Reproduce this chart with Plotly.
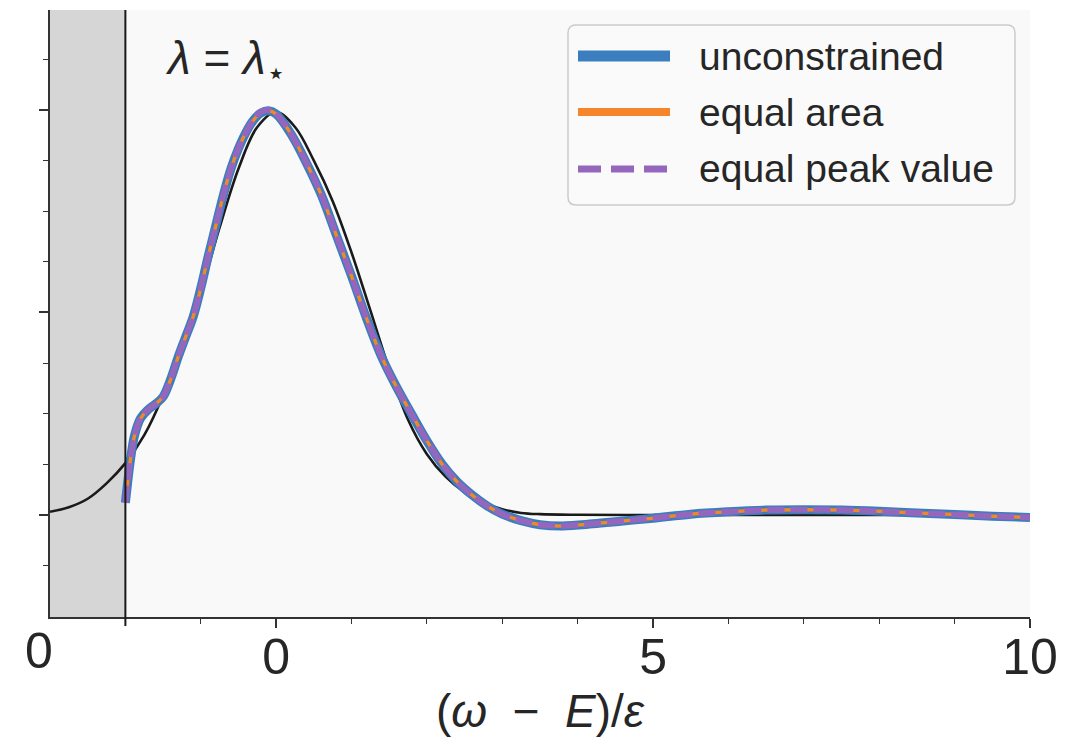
import plotly.graph_objects as go

# Spectral function samples, x = (omega - E)/epsilon
omega_fit = [-2.0, -1.97, -1.93, -1.88, -1.8, -1.7, -1.6, -1.5, -1.4, -1.3,
             -1.2, -1.1, -1.0, -0.9, -0.8, -0.7, -0.6, -0.5, -0.4, -0.3,
             -0.2, -0.1, 0.0, 0.2, 0.4, 0.6, 0.8, 1.0, 1.2, 1.4,
             1.6, 1.8, 2.0, 2.2, 2.4, 2.6, 2.8, 3.0, 3.25, 3.5,
             3.8, 4.2, 4.6, 5.0, 5.5, 6.0, 6.5, 7.0, 7.5, 8.0,
             8.5, 9.0, 9.5, 10.0]
unconstrained = [0.03, 0.08, 0.14, 0.195, 0.238, 0.26, 0.274, 0.292, 0.335, 0.39,
                 0.44, 0.49, 0.56, 0.64, 0.715, 0.79, 0.855, 0.905, 0.945, 0.975,
                 0.993, 0.998, 0.99, 0.94, 0.87, 0.79, 0.69, 0.59, 0.485, 0.39,
                 0.315, 0.248, 0.183, 0.126, 0.082, 0.049, 0.022, 0.002, -0.014, -0.024,
                 -0.027, -0.022, -0.015, -0.008, 0.002, 0.008, 0.012, 0.013, 0.012, 0.009,
                 0.005, 0.001, -0.003, -0.006]
equal_area = [0.03, 0.08, 0.14, 0.195, 0.238, 0.26, 0.274, 0.292, 0.335, 0.39,
              0.44, 0.49, 0.56, 0.64, 0.715, 0.79, 0.855, 0.905, 0.945, 0.975,
              0.993, 0.998, 0.99, 0.94, 0.87, 0.79, 0.69, 0.59, 0.485, 0.39,
              0.315, 0.248, 0.183, 0.126, 0.082, 0.049, 0.022, 0.002, -0.014, -0.024,
              -0.027, -0.022, -0.015, -0.008, 0.002, 0.008, 0.012, 0.013, 0.012, 0.009,
              0.005, 0.001, -0.003, -0.006]
equal_peak = [0.03, 0.08, 0.14, 0.195, 0.238, 0.26, 0.274, 0.292, 0.335, 0.39,
              0.44, 0.49, 0.56, 0.64, 0.715, 0.79, 0.855, 0.905, 0.945, 0.976,
              0.996, 1.0, 0.99, 0.94, 0.87, 0.79, 0.69, 0.59, 0.485, 0.39,
              0.315, 0.248, 0.183, 0.126, 0.082, 0.049, 0.022, 0.002, -0.014, -0.024,
              -0.027, -0.022, -0.015, -0.008, 0.002, 0.008, 0.012, 0.013, 0.012, 0.009,
              0.005, 0.001, -0.003, -0.006]

# Exact reference spectrum
omega_exact = [-3.0, -2.75, -2.5, -2.25, -2.0, -1.75, -1.5, -1.25, -1.0, -0.75,
               -0.5, -0.25, 0.0, 0.25, 0.5, 0.75, 1.0, 1.25, 1.5, 1.75,
               2.0, 2.25, 2.5, 2.75, 3.0, 3.25, 3.5, 4.0, 5.0, 6.0,
               8.0, 10.0]
exact = [0.008, 0.019, 0.040, 0.078, 0.128, 0.197, 0.295, 0.42, 0.55, 0.71,
         0.855, 0.958, 0.995, 0.958, 0.875, 0.775, 0.648, 0.505, 0.36, 0.235,
         0.15, 0.094, 0.056, 0.031, 0.014, 0.005, 0.002, 0.0005, 0.0, 0.0,
         0.0, 0.0]

lambda_star = -2.0
x_min, x_max = -3.0, 10.0
y_min, y_max = -0.252, 1.247
x_tick_vals = [0, 5, 10]
x_tick_text = ["0", "5", "10"]
x_minor_vals = [-2, -1, 1, 2, 3, 4, 6, 7, 8, 9]
y_tick_vals = [0.0, 0.5, 1.0]
y_minor_vals = [-0.125, 0.125, 0.25, 0.375, 0.625, 0.75, 0.875, 1.125]
edge_label = "0"

BLUE = "#3a7ebf"
ORANGE = "#f5842b"
PURPLE = "#9467bd"
INK = "#262626"
FONT = "Liberation Sans, Arial, sans-serif"

W, H = 1080, 739
plot_l, plot_r, plot_t, plot_b = 50, 1030, 10, 617


def qx(x):
    """figure pixel -> plot-area paper x"""
    return (x - plot_l) / (plot_r - plot_l)


def qy(y):
    """figure pixel -> plot-area paper y"""
    return (plot_b - y) / (plot_b - plot_t)


fig = go.Figure()

fig.add_trace(go.Scatter(x=omega_exact, y=exact, mode="lines", name="exact",
                         line=dict(color="#1a1a1a", width=2.6, shape="spline", smoothing=1.0)))
fig.add_trace(go.Scatter(x=omega_fit, y=unconstrained, mode="lines", name="unconstrained",
                         line=dict(color=BLUE, width=9, shape="spline", smoothing=1.0)))
fig.add_trace(go.Scatter(x=omega_fit, y=equal_area, mode="lines", name="equal area",
                         line=dict(color=ORANGE, width=3.5, shape="spline", smoothing=1.0)))
fig.add_trace(go.Scatter(x=omega_fit, y=equal_peak, mode="lines", name="equal peak value",
                         line=dict(color=PURPLE, width=6, dash="17px,6px", shape="spline", smoothing=1.0)))

# excluded region below lambda_star and its boundary
fig.add_shape(type="rect", xref="x", yref="paper", x0=x_min, x1=lambda_star, y0=0, y1=1,
              fillcolor="#d6d6d6", line=dict(width=0), layer="below")
fig.add_shape(type="line", xref="x", yref="paper", x0=lambda_star, x1=lambda_star, y0=-0.015, y1=1,
              line=dict(color="#1a1a1a", width=2))

# legend frame with rounded corners
lx0, lx1, ly0, ly1, r = 568, 1015, 25, 205, 8
frame = (f"M{qx(lx0 + r)},{qy(ly0)} L{qx(lx1 - r)},{qy(ly0)} Q{qx(lx1)},{qy(ly0)} {qx(lx1)},{qy(ly0 + r)} "
         f"L{qx(lx1)},{qy(ly1 - r)} Q{qx(lx1)},{qy(ly1)} {qx(lx1 - r)},{qy(ly1)} L{qx(lx0 + r)},{qy(ly1)} "
         f"Q{qx(lx0)},{qy(ly1)} {qx(lx0)},{qy(ly1 - r)} L{qx(lx0)},{qy(ly0 + r)} Q{qx(lx0)},{qy(ly0)} {qx(lx0 + r)},{qy(ly0)} Z")
fig.add_shape(type="path", xref="paper", yref="paper", path=frame,
              fillcolor="rgba(250,250,250,0.85)", line=dict(color="#cccccc", width=1.5))

legend_entries = [("unconstrained", BLUE, 11, "solid", 56),
                  ("equal area", ORANGE, 8, "solid", 112),
                  ("equal peak value", PURPLE, 7, "23px,10px", 169)]
annotations = []
for label, color, width, dash, yc in legend_entries:
    fig.add_shape(type="line", xref="paper", yref="paper",
                  x0=qx(578), x1=qx(670), y0=qy(yc), y1=qy(yc),
                  line=dict(color=color, width=width, dash=dash))
    annotations.append(dict(xref="paper", yref="paper", x=qx(697), y=qy(yc), text=label,
                            showarrow=False, xanchor="left", yanchor="middle",
                            font=dict(family=FONT, size=39, color=INK)))

annotations.append(dict(xref="paper", yref="paper", x=qx(225), y=qy(62),
                        text="<i>λ</i>&nbsp;=&nbsp;<i>λ</i><sub>⋆</sub>",
                        showarrow=False, xanchor="center", yanchor="middle",
                        font=dict(family=FONT, size=46, color=INK)))
annotations.append(dict(xref="paper", yref="paper", x=qx(39), y=qy(651), text=edge_label,
                        showarrow=False, xanchor="center", yanchor="middle",
                        font=dict(family=FONT, size=50, color=INK)))

fig.update_layout(
    width=W, height=H,
    margin=dict(l=plot_l, r=W - plot_r, t=plot_t, b=H - plot_b),
    paper_bgcolor="white",
    plot_bgcolor="#f9f9f9",
    showlegend=False,
    annotations=annotations,
    font=dict(family=FONT, color=INK),
)

fig.update_xaxes(
    range=[x_min, x_max], showgrid=False, zeroline=False,
    showline=True, linecolor="#333333", linewidth=1.5,
    tickmode="array", tickvals=x_tick_vals, ticktext=x_tick_text,
    ticks="outside", ticklen=9, tickwidth=1.5, tickcolor="#333333",
    ticklabelstandoff=-14,
    tickfont=dict(family=FONT, size=50, color=INK),
    minor=dict(tickmode="array", tickvals=x_minor_vals, ticks="outside",
               ticklen=5, tickwidth=1.2, tickcolor="#333333"),
    title=dict(text="(<i>ω</i>&nbsp;&nbsp;−&nbsp;&nbsp;<i>E</i>)/<i>ε</i>",
               font=dict(family=FONT, size=46, color=INK), standoff=4),
)
fig.update_yaxes(
    range=[y_min, y_max], showgrid=False, zeroline=False,
    showline=True, linecolor="#333333", linewidth=1.5,
    tickmode="array", tickvals=y_tick_vals, showticklabels=False,
    ticks="outside", ticklen=9, tickwidth=1.5, tickcolor="#333333",
    minor=dict(tickmode="array", tickvals=y_minor_vals, ticks="outside",
               ticklen=5, tickwidth=1.2, tickcolor="#333333"),
)

fig.write_html("out.html")
